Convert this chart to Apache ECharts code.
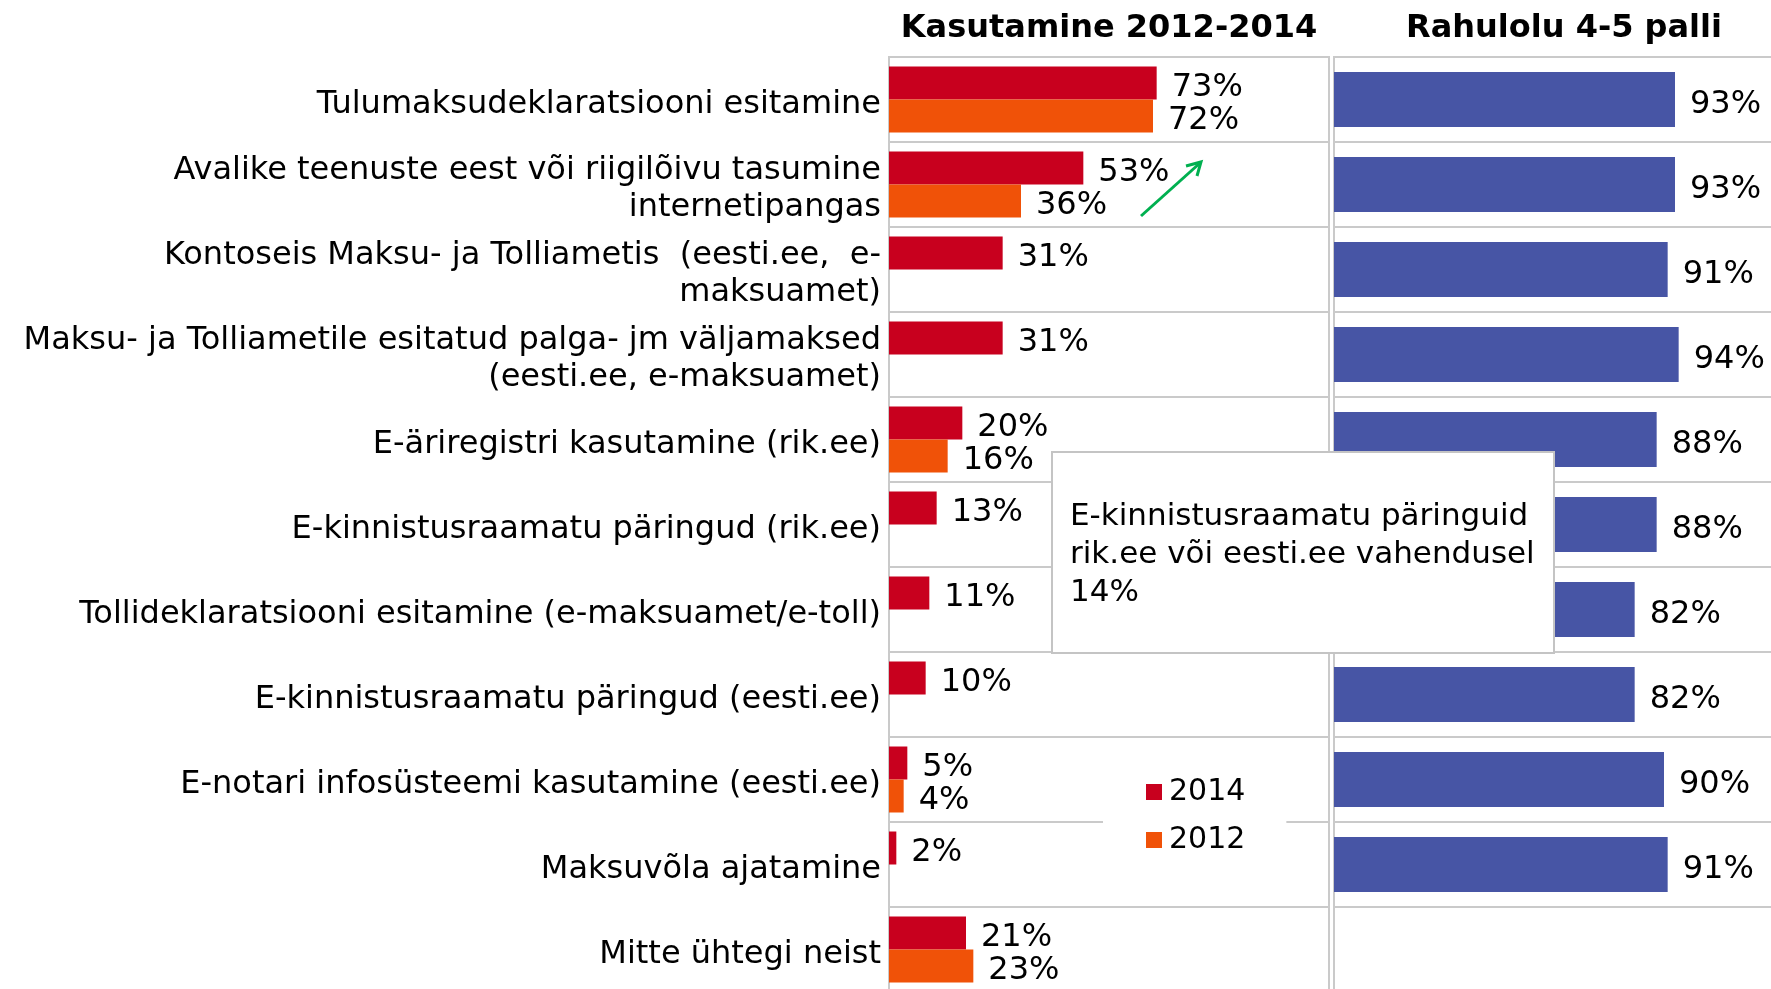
<!DOCTYPE html>
<html>
<head>
<meta charset="utf-8">
<title>Kasutamine ja rahulolu</title>
<script src="https://cdn.jsdelivr.net/npm/echarts@6/dist/echarts.min.js"></script>
<style>
    html, body { margin: 0; padding: 0; background: #fff; }
    #chart { width: 1771px; height: 989px; }
</style>
</head>
<body>
<div id="chart"></div>
<script>
// categories, top to bottom
var categories = [
    'Tulumaksudeklaratsiooni esitamine',
    'Avalike teenuste eest või riigilõivu tasumine\ninternetipangas',
    'Kontoseis Maksu- ja Tolliametis  (eesti.ee,  e-\nmaksuamet)',
    'Maksu- ja Tolliametile esitatud palga- jm väljamaksed\n(eesti.ee, e-maksuamet)',
    'E-äriregistri kasutamine (rik.ee)',
    'E-kinnistusraamatu päringud (rik.ee)',
    'Tollideklaratsiooni esitamine (e-maksuamet/e-toll)',
    'E-kinnistusraamatu päringud (eesti.ee)',
    'E-notari infosüsteemi kasutamine (eesti.ee)',
    'Maksuvõla ajatamine',
    'Mitte ühtegi neist'
];
// kasutamine 2014 / 2012 (%)
var use2014 = [73, 53, 31, 31, 20, 13, 11, 10, 5, 2, 21];
var use2012 = [72, 36, null, null, 16, null, null, null, 4, null, 23];
// rahulolu 4-5 palli (%)
var satisfaction = [93, 93, 91, 94, 88, 88, 82, 82, 90, 91, null];

var titles = ['Kasutamine 2012-2014', 'Rahulolu 4-5 palli'];
var noteText = 'E-kinnistusraamatu päringuid\nrik.ee või eesti.ee vahendusel\n14%';

var FONT = '"DejaVu Sans", Verdana, sans-serif';
var GRID_LINE = '#cacaca';

var myChart = echarts.init(document.getElementById('chart'));

function valueLabel() {
    return {
        show: true,
        position: 'right',
        distance: 15,
        offset: [0, 5],
        formatter: '{c}%',
        fontSize: 32,
        color: '#000',
        fontFamily: FONT
    };
}

// category axis; split lines on the panels, labels on a separate axis
function catAxis(gridIndex, showLabels, showLines) {
    return {
        type: 'category',
        gridIndex: gridIndex,
        data: categories,
        inverse: true,
        axisLine: { show: false },
        axisTick: { show: false },
        axisLabel: {
            show: showLabels,
            interval: 0,
            margin: 8,
            fontSize: 32,
            lineHeight: 37,
            color: '#000',
            align: 'right',
            fontFamily: FONT
        },
        splitLine: { show: showLines, interval: 0, lineStyle: { color: GRID_LINE, width: 2 } }
    };
}

var option = {
    animation: false,
    backgroundColor: '#fff',
    textStyle: { fontFamily: FONT },
    title: [
        { text: titles[0], left: 1104, top: 8, textAlign: 'center',
          textStyle: { fontSize: 32, fontWeight: 'bold', color: '#000', fontFamily: FONT } },
        { text: titles[1], left: 1559, top: 8, textAlign: 'center',
          textStyle: { fontSize: 32, fontWeight: 'bold', color: '#000', fontFamily: FONT } }
    ],
    legend: {
        data: ['2014', '2012'],
        orient: 'vertical',
        left: 1103,
        top: 763,
        padding: [14, 41, 14, 43],
        backgroundColor: '#fff',
        itemWidth: 16,
        itemHeight: 16,
        itemGap: 18,
        icon: 'rect',
        textStyle: { fontSize: 30, color: '#000', fontFamily: FONT, padding: [0, 0, 0, 2] }
    },
    grid: [
        { left: 889, top: 57, width: 440, height: 935, show: true,
          borderColor: GRID_LINE, borderWidth: 2, outerBoundsMode: 'none' },
        { left: 1334, top: 57, width: 440, height: 935, show: true,
          borderColor: GRID_LINE, borderWidth: 2, outerBoundsMode: 'none' },
        // label-only grid, nudged down a little
        { left: 889, top: 62, width: 440, height: 935, outerBoundsMode: 'none' }
    ],
    xAxis: [
        { type: 'value', gridIndex: 0, min: 0, max: 120, show: false },
        { type: 'value', gridIndex: 1, min: 0, max: 120, show: false },
        { type: 'value', gridIndex: 2, min: 0, max: 120, show: false }
    ],
    yAxis: [
        catAxis(0, false, true),
        catAxis(1, false, true),
        catAxis(2, true, false)
    ],
    series: [
        {
            name: '2014', type: 'bar', xAxisIndex: 0, yAxisIndex: 0,
            data: use2014, barWidth: 33, barGap: '0%',
            itemStyle: { color: '#c8001e' },
            label: valueLabel()
        },
        {
            name: '2012', type: 'bar', xAxisIndex: 0, yAxisIndex: 0,
            data: use2012, barWidth: 33, barGap: '0%',
            itemStyle: { color: '#f05208' },
            label: valueLabel()
        },
        {
            name: 'Rahulolu', type: 'bar', xAxisIndex: 1, yAxisIndex: 1,
            data: satisfaction, barWidth: 55,
            itemStyle: { color: '#4755a5' },
            label: valueLabel()
        }
    ],
    graphic: [
        // green trend arrow
        { type: 'line', z: 50, shape: { x1: 1141, y1: 216, x2: 1200, y2: 163 },
          style: { stroke: '#00b050', lineWidth: 3 } },
        { type: 'polyline', z: 50, shape: { points: [[1186, 166], [1201, 162], [1197, 176]] },
          style: { stroke: '#00b050', lineWidth: 3, fill: null } },
        // note box over the bars
        { type: 'rect', z: 100, shape: { x: 1052, y: 452, width: 502, height: 201 },
          style: { fill: '#fff', stroke: '#c4c4c4', lineWidth: 2 } },
        { type: 'text', z: 101, x: 1070, y: 498,
          style: { text: noteText, font: '31px ' + FONT, lineHeight: 38,
                   fill: '#000', textVerticalAlign: 'top' } }
    ]
};

myChart.setOption(option);
</script>
</body>
</html>
